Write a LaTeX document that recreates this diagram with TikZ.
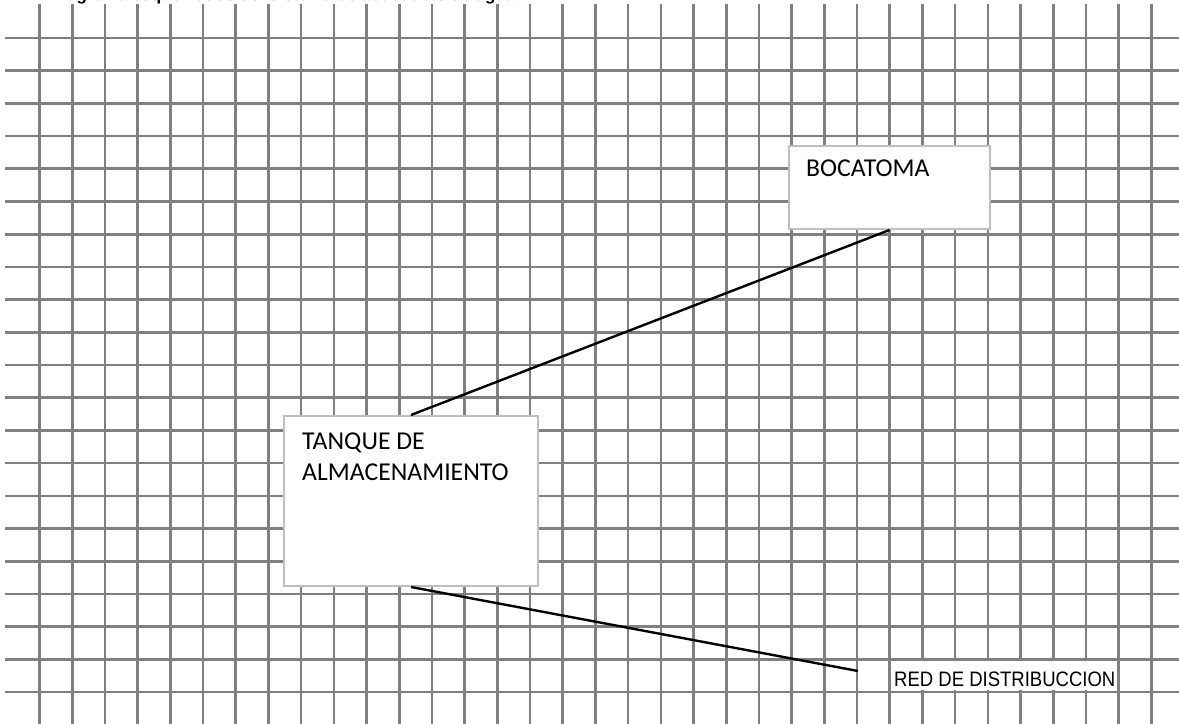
\documentclass[tikz,border=0pt]{standalone}
\usepackage{fontspec}
\setmainfont{Carlito}
\newfontfamily\arialf{Liberation Sans}
\definecolor{gridgray}{HTML}{808080}
\definecolor{boxgray}{HTML}{BFBFBF}
\begin{document}
\begin{tikzpicture}[x=1bp,y=-1bp,
  gridline/.style={draw=gridgray,line width=2.6bp},
  boxstyle/.style={draw=boxgray,fill=white,line width=2bp,inner sep=0pt},
  conn/.style={draw=black,line width=2.4bp},
  boxtext/.style={anchor=base west,inner sep=0pt,font=\fontsize{25.8}{30}\selectfont},
  redtext/.style={anchor=base west,inner sep=0pt,font=\arialf\fontsize{21}{24}\selectfont}]
\useasboundingbox[fill=white] (0,0) rectangle (1179,724);
% title, cut off at the top edge
\begin{scope}
\clip (0,0) rectangle (1179,724);
\node[anchor=base west,inner sep=0pt,font=\arialf\bfseries\fontsize{17}{20}\selectfont] (title) at (50,0.5) {Diagrama esquemático del sistema de acueducto de agua};
\end{scope}
% grid
\foreach \k in {0,...,34} \draw[gridline] ({39.5+32.7*\k},4) -- ({39.5+32.7*\k},724);
\foreach \k in {0,...,20} \draw[gridline] (5,{38+32.7*\k}) -- (1179,{38+32.7*\k});
% boxes
\node[boxstyle,minimum width=201bp,minimum height=83bp] (boc) at (889.5,187.5) {};
\node[boxstyle,minimum width=254bp,minimum height=170bp] (tank) at (411,501) {};
\node[boxtext] (boctext) at (806,177) {BOCATOMA};
\node[boxtext] (tanktext1) at (302,449) {TANQUE DE};
\node[boxtext] (tanktext2) at (302,480) {ALMACENAMIENTO};
% red label
\node[fill=white,inner sep=0pt,minimum width=226bp,minimum height=29bp,anchor=north west] (redbg) at (891,661) {};
\node[redtext] (red) at (894,686) {\scalebox{0.885}[1]{RED DE DISTRIBUCCION}};
\coordinate (redend) at (858,671);
% connectors
\draw[conn] (boc.south) -- (tank.north);
\draw[conn] (tank.south) -- (redend);
\end{tikzpicture}
\end{document}
